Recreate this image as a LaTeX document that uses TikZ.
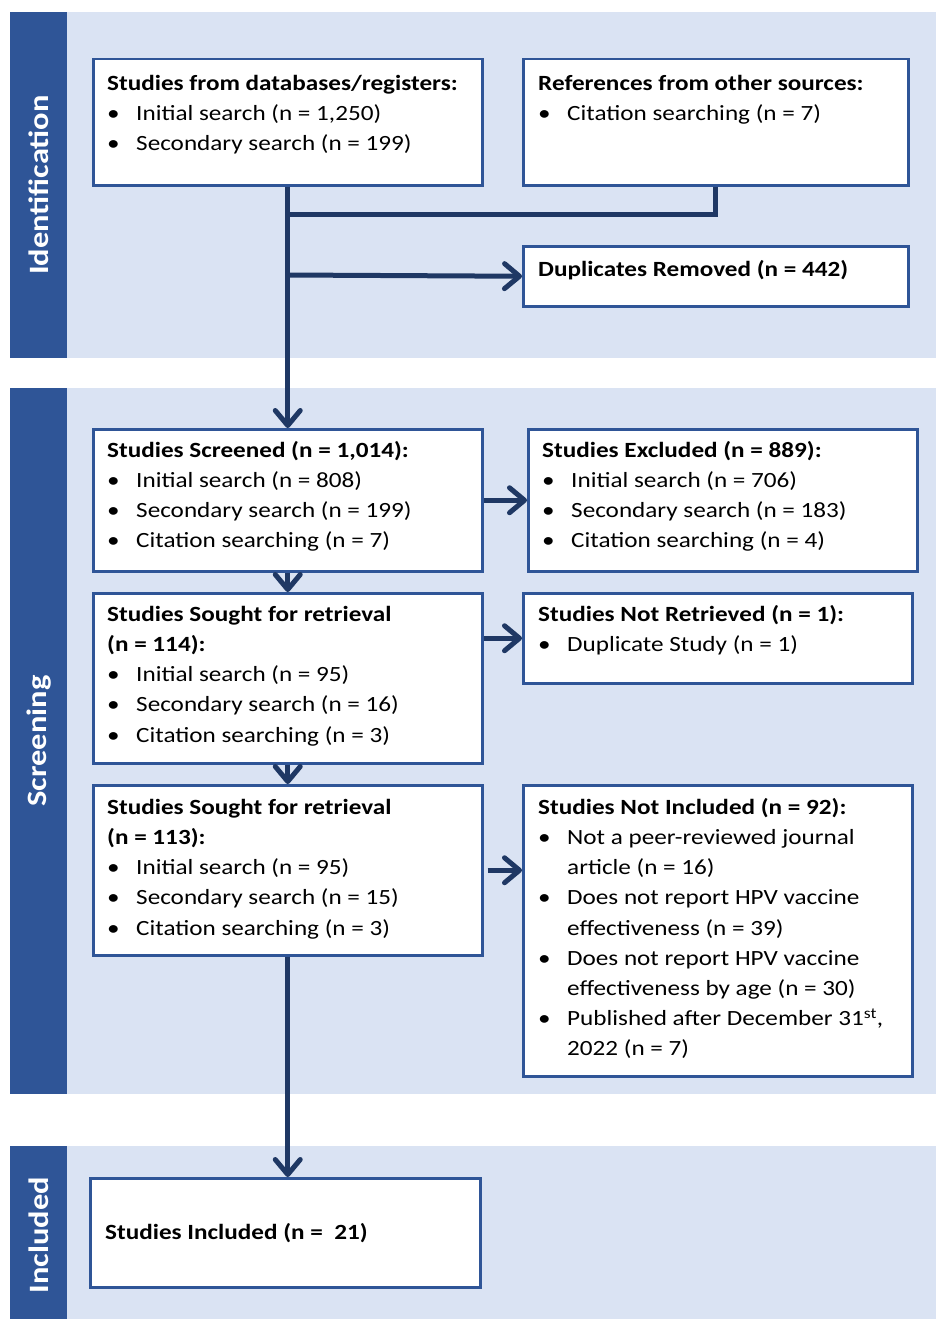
\documentclass[tikz,border=0pt]{standalone}
\usepackage{fontspec}
\setmainfont{Carlito}[FakeStretch=1.16]
\usetikzlibrary{arrows.meta}
\definecolor{band}{HTML}{DAE3F3}
\definecolor{tabc}{HTML}{2F5597}
\definecolor{framec}{HTML}{2F5597}
\definecolor{arr}{HTML}{1F3864}
\tikzset{
 box/.style={draw=framec, line width=2.5pt, fill=white, anchor=north west, inner sep=0pt},
 txt/.style={anchor=north west, inner sep=0pt, align=left, font=\fontsize{21.7}{30.2}\selectfont},
 flow/.style={draw=arr, line width=5pt, -{Straight Barb[length=15pt,width=25pt,round]}},
 link/.style={draw=arr, line width=5pt},
 lab/.style={rotate=90, text=white, inner sep=0pt, font=\bfseries\fontsize{28}{30}\selectfont}
}
\newcommand{\fl}{\rule{0pt}{20pt}}
\newcommand{\bu}{\makebox[29pt][l]{\textbullet}}
\newcommand{\ind}{\hspace*{29pt}}
\begin{document}
\begin{tikzpicture}[x=1pt,y=-1pt]
\useasboundingbox (0,0) rectangle (936,1319);
% bands
\fill[band] (10,12) rectangle (936,358);
\fill[tabc] (10,12) rectangle (67,358);
\fill[band] (10,388) rectangle (936,1094);
\fill[tabc] (10,388) rectangle (67,1094);
\fill[band] (10,1146) rectangle (936,1319);
\fill[tabc] (10,1146) rectangle (67,1319);
\node[lab] (lid) at (39,185) {Identification};
\node[lab] (lsc) at (39,741) {Screening};
\node[lab] (lin) at (39,1235) {Included};
% boxes
\node[box, minimum width=389pt, minimum height=126pt] (dbB) at (92,58) {};
\node[box, minimum width=385pt, minimum height=126pt] (othB) at (522,58) {};
\node[box, minimum width=385pt, minimum height=60pt] (dupB) at (522,245) {};
\node[box, minimum width=389pt, minimum height=142pt] (scrB) at (92,428) {};
\node[box, minimum width=389pt, minimum height=142pt] (excB) at (527,428) {};
\node[box, minimum width=389pt, minimum height=170pt] (s1B) at (92,592) {};
\node[box, minimum width=389pt, minimum height=90pt] (nrB) at (522,592) {};
\node[box, minimum width=389pt, minimum height=170pt] (s2B) at (92,784) {};
\node[box, minimum width=389pt, minimum height=291pt] (niB) at (522,784) {};
\node[box, minimum width=390pt, minimum height=109pt] (incB) at (89,1177) {};
% texts
\node[txt] (dbT) at (107,70) {\fl\textbf{Studies from databases/registers:}\\
\bu Initial search (n = 1,250)\\
\bu Secondary search (n = 199)};
\node[txt] (othT) at (538,70) {\fl\textbf{References from other sources:}\\
\bu Citation searching (n = 7)};
\node[txt] (dupT) at (538,256) {\fl\textbf{Duplicates Removed (n = 442)}};
\node[txt] (scrT) at (107,437) {\fl\textbf{Studies Screened (n = 1,014):}\\
\bu Initial search (n = 808)\\
\bu Secondary search (n = 199)\\
\bu Citation searching (n = 7)};
\node[txt] (excT) at (542,437) {\fl\textbf{Studies Excluded (n = 889):}\\
\bu Initial search (n = 706)\\
\bu Secondary search (n = 183)\\
\bu Citation searching (n = 4)};
\node[txt] (s1T) at (107,601) {\fl\textbf{Studies Sought for retrieval}\\
\textbf{(n = 114):}\\
\bu Initial search (n = 95)\\
\bu Secondary search (n = 16)\\
\bu Citation searching (n = 3)};
\node[txt] (nrT) at (538,601) {\fl\textbf{Studies Not Retrieved (n = 1):}\\
\bu Duplicate Study (n = 1)};
\node[txt] (s2T) at (107,794) {\fl\textbf{Studies Sought for retrieval}\\
\textbf{(n = 113):}\\
\bu Initial search (n = 95)\\
\bu Secondary search (n = 15)\\
\bu Citation searching (n = 3)};
\node[txt] (niT) at (538,794) {\fl\textbf{Studies Not Included (n = 92):}\\
\bu Not a peer-reviewed journal\\
\ind article (n = 16)\\
\bu Does not report HPV vaccine\\
\ind effectiveness (n = 39)\\
\bu Does not report HPV vaccine\\
\ind effectiveness by age (n = 30)\\
\bu Published after December 31\textsuperscript{st},\\
\ind 2022 (n = 7)};
\node[txt] (incT) at (105,1219) {\fl\textbf{Studies Included (n = \ 21)}};
% connectors
\coordinate (jn) at (286.5,214);
\coordinate (jd) at (286.5,275);
\draw[link] (othB.south) |- (jn);
\draw[flow] (dbB.south) -- (scrB.north);
\draw[flow] (jd) -- (dupB.west);
\draw[flow] (scrB.east) -- (excB.west);
\draw[flow] (scrB.south) -- (s1B.north);
\draw[flow] (s1B.east |- nrB.west) -- (nrB.west);
\draw[flow] (s1B.south) -- (s2B.north);
\draw[flow] ([xshift=4pt]s2B.east) -- (niB.west |- s2B.east);
\draw[flow] (s2B.south) -- (s2B.south |- incB.north);
\end{tikzpicture}
\end{document}
